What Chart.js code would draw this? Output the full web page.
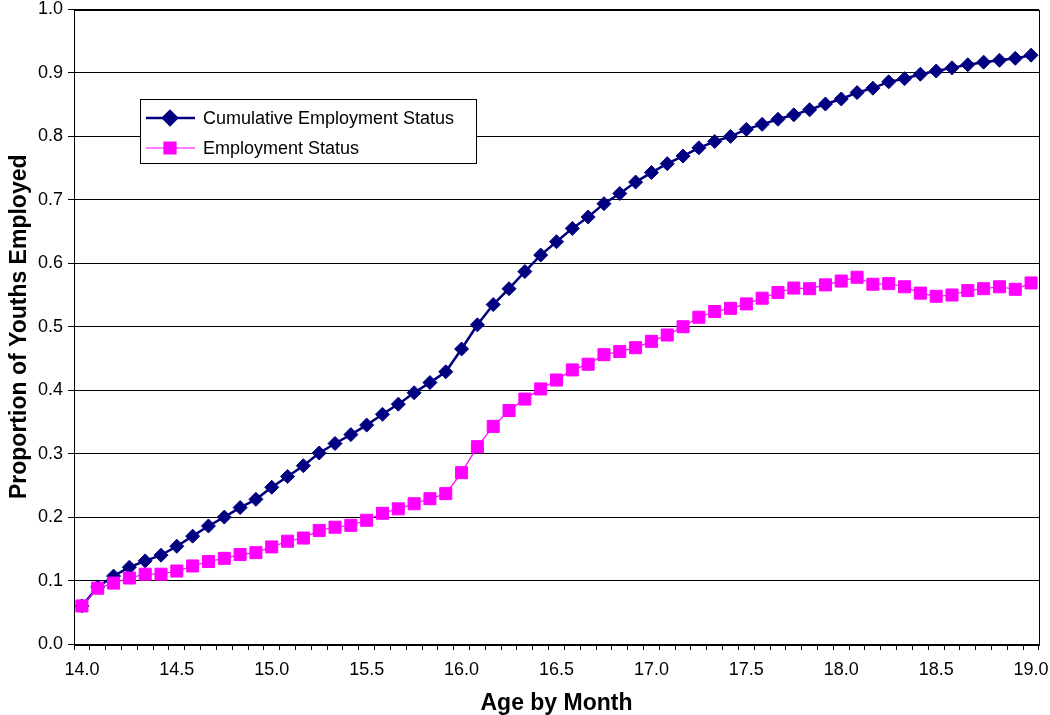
<!DOCTYPE html>
<html>
<head>
<meta charset="utf-8">
<script src="https://cdn.jsdelivr.net/npm/chart.js@4.4.1/dist/chart.umd.min.js"></script>
<style>
  body { margin: 0; background: #fff; }
  #wrap { width: 1050px; height: 715px; }
</style>
</head>
<body>
<div id="wrap"><canvas id="empChart" width="1050" height="715"></canvas></div>
<script>
// age in years, one entry per month
const ages = [
  '14.00','14.08','14.17','14.25','14.33','14.42','14.50','14.58','14.67','14.75','14.83','14.92',
  '15.00','15.08','15.17','15.25','15.33','15.42','15.50','15.58','15.67','15.75','15.83','15.92',
  '16.00','16.08','16.17','16.25','16.33','16.42','16.50','16.58','16.67','16.75','16.83','16.92',
  '17.00','17.08','17.17','17.25','17.33','17.42','17.50','17.58','17.67','17.75','17.83','17.92',
  '18.00','18.08','18.17','18.25','18.33','18.42','18.50','18.58','18.67','18.75','18.83','18.92',
  '19.00'
];
const xTickLabels = ['14.0','14.5','15.0','15.5','16.0','16.5','17.0','17.5','18.0','18.5','19.0'];

const cumulativeStatus = [
  0.060, 0.090, 0.107, 0.121, 0.131, 0.140, 0.154, 0.170, 0.186, 0.200, 0.215, 0.228,
  0.247, 0.264, 0.281, 0.301, 0.316, 0.330, 0.345, 0.362, 0.378, 0.396, 0.412, 0.429,
  0.465, 0.503, 0.535, 0.560, 0.587, 0.613, 0.634, 0.655, 0.673, 0.694, 0.710, 0.728,
  0.743, 0.757, 0.769, 0.782, 0.792, 0.800, 0.811, 0.819, 0.827, 0.834, 0.842, 0.851,
  0.859, 0.869, 0.876, 0.886, 0.891, 0.898, 0.903, 0.908, 0.913, 0.917, 0.920, 0.923,
  0.928
];
const employmentStatus = [
  0.060, 0.088, 0.096, 0.104, 0.110, 0.110, 0.115, 0.123, 0.130, 0.135, 0.141, 0.144,
  0.153, 0.162, 0.167, 0.179, 0.184, 0.187, 0.195, 0.206, 0.213, 0.221, 0.229, 0.237,
  0.270, 0.311, 0.343, 0.368, 0.386, 0.402, 0.416, 0.432, 0.441, 0.456, 0.461, 0.467,
  0.477, 0.487, 0.500, 0.515, 0.524, 0.529, 0.536, 0.545, 0.554, 0.561, 0.560, 0.566,
  0.572, 0.578, 0.567, 0.568, 0.563, 0.553, 0.548, 0.550, 0.557, 0.560, 0.563, 0.559,
  0.569
];

const NAVY = '#000080';
const MAGENTA = '#FF00FF';
const FONT = "'Liberation Sans', Arial, sans-serif";

Chart.defaults.font.family = FONT;
Chart.defaults.color = '#000';

// frame round the plot area
const plotBorder = {
  id: 'plotBorder',
  afterDatasetsDraw(chart) {
    const { ctx, chartArea: a } = chart;
    ctx.save();
    ctx.strokeStyle = '#000';
    ctx.lineWidth = 1;
    ctx.strokeRect(Math.round(a.left) + 0.5, Math.round(a.top) + 0.5,
                   Math.round(a.right - a.left), Math.round(a.bottom - a.top));
    ctx.restore();
  }
};

// boxed legend inside the plot, like the original
const boxLegend = {
  id: 'boxLegend',
  afterDraw(chart) {
    const ctx = chart.ctx;
    const box = { x: 140, y: 99, w: 336, h: 64 };
    ctx.save();
    ctx.fillStyle = '#fff';
    ctx.fillRect(box.x, box.y, box.w, box.h);
    ctx.strokeStyle = '#000';
    ctx.lineWidth = 1;
    ctx.strokeRect(box.x + 0.5, box.y + 0.5, box.w, box.h);
    ctx.font = '18px ' + FONT;
    ctx.textBaseline = 'middle';
    const rows = [118, 148];
    chart.data.datasets.forEach((ds, i) => {
      const y = rows[i];
      ctx.strokeStyle = ds.borderColor;
      ctx.lineWidth = ds.borderWidth;
      ctx.beginPath();
      ctx.moveTo(146, y);
      ctx.lineTo(195, y);
      ctx.stroke();
      Chart.helpers.drawPoint(ctx, {
        pointStyle: ds.pointStyle,
        radius: ds.pointRadius,
        borderWidth: 1
      }, 170, y);
      ctx.fillStyle = ds.pointBackgroundColor;
      ctx.strokeStyle = ds.pointBorderColor;
      ctx.fill();
      ctx.fillStyle = '#000';
      ctx.fillText(ds.label, 203, y + 1);
    });
    ctx.restore();
  }
};

new Chart(document.getElementById('empChart').getContext('2d'), {
  type: 'line',
  data: {
    labels: ages,
    datasets: [
      {
        label: 'Cumulative Employment Status',
        data: cumulativeStatus,
        borderColor: NAVY,
        borderWidth: 2.5,
        pointStyle: 'rectRot',
        pointRadius: 7,
        pointBackgroundColor: NAVY,
        pointBorderColor: NAVY,
        pointBorderWidth: 1,
        tension: 0,
        order: 1
      },
      {
        label: 'Employment Status',
        data: employmentStatus,
        borderColor: MAGENTA,
        borderWidth: 1.2,
        pointStyle: 'rect',
        pointRadius: 8.5,
        pointBackgroundColor: MAGENTA,
        pointBorderColor: MAGENTA,
        pointBorderWidth: 1,
        tension: 0,
        order: 0
      }
    ]
  },
  options: {
    responsive: false,
    animation: false,
    layout: { padding: { left: 0, top: 8, right: 11, bottom: 0 } },
    plugins: {
      legend: { display: false },
      tooltip: { enabled: false }
    },
    scales: {
      x: {
        type: 'category',
        offset: true,
        grid: { offset: true, drawOnChartArea: false, tickLength: 6, color: '#000' },
        border: { color: '#000' },
        ticks: {
          autoSkip: false,
          maxRotation: 0,
          padding: 9,
          font: { size: 18 },
          callback(value) {
            const t = Number(this.getLabelForValue(value)).toFixed(1);
            return xTickLabels.includes(t) ? t : '';
          }
        },
        title: {
          display: true,
          text: 'Age by Month',
          font: { size: 23, weight: 'bold', lineHeight: 1 },
          padding: { top: 0, bottom: 0 }
        },
        afterFit(s) { s.height = 71; s.paddingLeft = 0; s.paddingRight = 0; }
      },
      y: {
        min: 0,
        max: 1,
        grid: { color: '#000', tickLength: 6 },
        border: { color: '#000' },
        ticks: {
          stepSize: 0.1,
          padding: 5,
          font: { size: 18 },
          callback: v => v.toFixed(1)
        },
        title: {
          display: true,
          text: 'Proportion of Youths Employed',
          font: { size: 23, weight: 'bold', lineHeight: 1 },
          padding: { top: 8, bottom: 0 }
        },
        afterFit(s) { s.width = 74; s.paddingTop = 0; s.paddingBottom = 0; }
      }
    }
  },
  plugins: [plotBorder, boxLegend]
});
</script>
</body>
</html>
